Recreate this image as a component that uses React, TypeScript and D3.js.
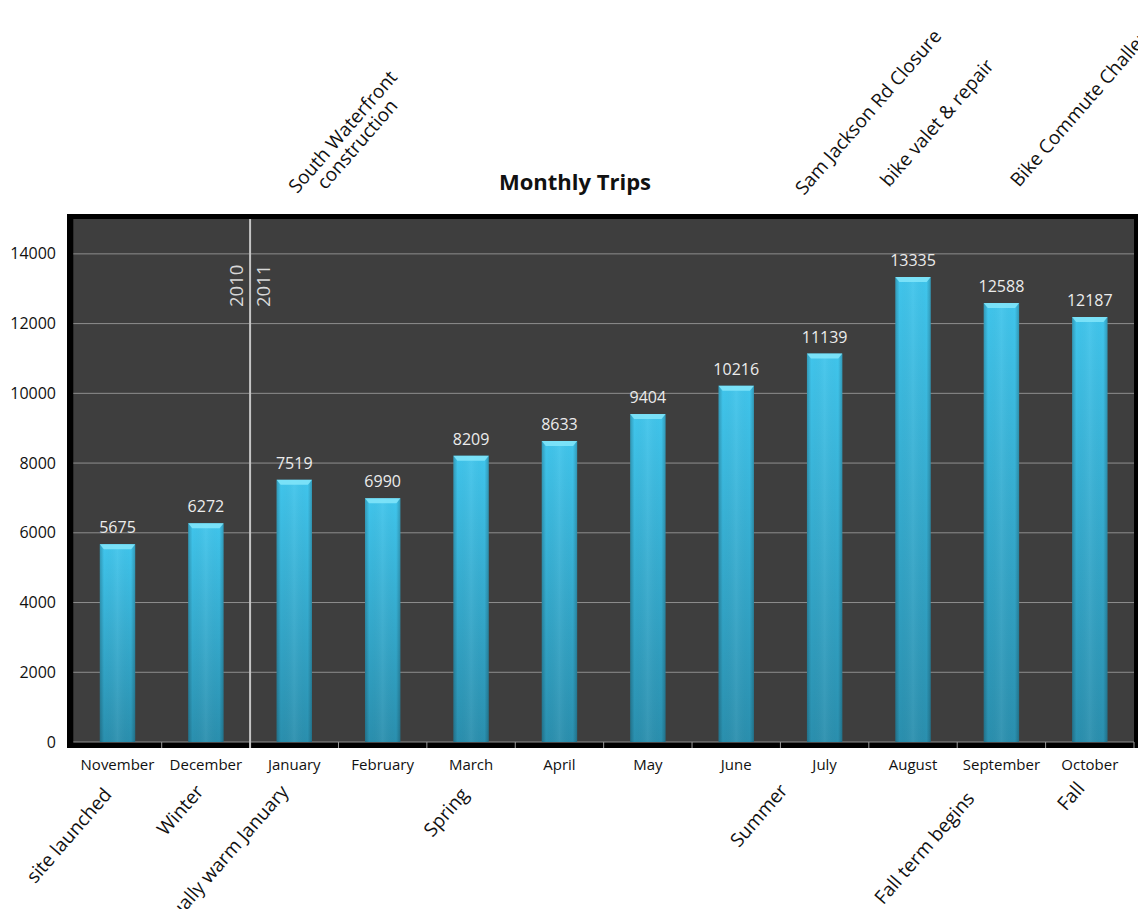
import React from "react";
import * as d3 from "d3";

const months = ["November", "December", "January", "February", "March", "April", "May", "June", "July", "August", "September", "October"];
const trips = [5675, 6272, 7519, 6990, 8209, 8633, 9404, 10216, 11139, 13335, 12588, 12187];
const yTicks = [0, 2000, 4000, 6000, 8000, 10000, 12000, 14000];

const topNotes = [
  { lines: ["Sam Jackson Rd Closure"], x: 804, y: 196 },
  { lines: ["bike valet & repair"], x: 889, y: 188 },
  { lines: ["Bike Commute Challenge"], x: 1019, y: 188 },
];
const bottomNotes = [
  { text: "site launched", x: 102, y: 786 },
  { text: "Winter", x: 194, y: 783 },
  { text: "Unusually warm January", x: 279, y: 783 },
  { text: "Spring", x: 459, y: 786 },
  { text: "Summer", x: 778, y: 782 },
  { text: "Fall term begins", x: 965, y: 790 },
  { text: "Fall", x: 1075, y: 780 },
];

const W = 1138, H = 909;
const L = 73.3, R = 1134, T = 219, B = 742;
const FONT = "'Open Sans', sans-serif";
const ANG = -49;

export default function App() {
  const x = d3.scaleBand<string>().domain(months).range([L, R]).padding(0);
  const y = d3.scaleLinear().domain([0, 15000]).range([B, T]);
  const bw = x.bandwidth() * 0.4;
  const divX = x("January")!;

  return (
    <svg width={W} height={H} style={{ position: "absolute", left: 0, top: 0, background: "#fff" }} fontFamily={FONT}>
      <defs>
        <linearGradient id="vg" x1="0" y1="0" x2="0" y2="1">
          <stop offset="0" stopColor="#40c5ec" />
          <stop offset="1" stopColor="#2a8fae" />
        </linearGradient>
        <linearGradient id="hg" x1="0" y1="0" x2="1" y2="0">
          <stop offset="0" stopColor="#000" stopOpacity="0.22" />
          <stop offset="0.12" stopColor="#000" stopOpacity="0.0" />
          <stop offset="0.5" stopColor="#fff" stopOpacity="0.06" />
          <stop offset="0.88" stopColor="#000" stopOpacity="0.0" />
          <stop offset="1" stopColor="#000" stopOpacity="0.22" />
        </linearGradient>
      </defs>
      {/* frame */}
      <rect x={67} y={214} width={W - 67} height={748 - 214} fill="#000" />
      <rect x={L} y={T} width={R - L} height={B - T} fill="#3e3e3e" />
      {/* gridlines */}
      {yTicks.map((t) => (
        <line key={t} x1={L} x2={R} y1={y(t)} y2={y(t)} stroke="#8e8e8e" strokeWidth={1} />
      ))}
      {/* tick marks on bottom band */}
      {months.map((m) => (
        <line key={m} x1={x(m)! + x.bandwidth()} x2={x(m)! + x.bandwidth()} y1={B} y2={748} stroke="#9a9a9a" strokeWidth={1} />
      ))}
      {/* bars */}
      {months.map((m, i) => {
        const bx = x(m)! + (x.bandwidth() - bw) / 2;
        const by = y(trips[i]);
        const bh = B - by;
        return (
          <g key={m}>
            <rect x={bx} y={by} width={bw} height={bh} fill="url(#vg)" />
            <rect x={bx} y={by} width={bw} height={bh} fill="url(#hg)" />
            <path d={`M${bx},${by} L${bx + bw},${by} L${bx + bw - 4},${by + 5} L${bx + 4},${by + 5} Z`} fill="#7fe4fa" opacity={0.9} />
            <text x={bx + bw / 2} y={by - 11} textAnchor="middle" fontSize={16} fill="#ececec">{trips[i]}</text>
          </g>
        );
      })}
      {/* year divider */}
      <line x1={divX} x2={divX} y1={T} y2={748} stroke="#c4c4c4" strokeWidth={2} />
      <text transform={`translate(${divX - 7},307) rotate(-90)`} fontSize={18.5} fill="#d8d8d8">2010</text>
      <text transform={`translate(${divX + 20},307) rotate(-90)`} fontSize={18.5} fill="#d8d8d8">2011</text>
      {/* y tick labels */}
      {yTicks.map((t) => (
        <text key={t} x={56} y={y(t) + 5.5} textAnchor="end" fontSize={16} fill="#111">{t}</text>
      ))}
      {/* x labels */}
      {months.map((m) => (
        <text key={m} x={x(m)! + x.bandwidth() / 2} y={770} textAnchor="middle" fontSize={15} fill="#111">{m}</text>
      ))}
      {/* title */}
      <text x={575} y={190} textAnchor="middle" fontSize={22} fontWeight="bold" fill="#111">Monthly Trips</text>
      {/* top annotations */}
      <g transform={`translate(350,138) rotate(${ANG})`} fontSize={19} fill="#111" textAnchor="middle">
        <text x={0} y={-3}>South Waterfront</text>
        <text x={0} y={16}>construction</text>
      </g>
      {topNotes.map((n) => (
        <text key={n.lines[0]} transform={`translate(${n.x},${n.y}) rotate(${ANG})`} fontSize={19} fill="#111">{n.lines[0]}</text>
      ))}
      {bottomNotes.map((n) => (
        <text key={n.text} transform={`translate(${n.x},${n.y}) rotate(${ANG})`} fontSize={19} fill="#111" textAnchor="end" dy={14}>{n.text}</text>
      ))}
    </svg>
  );
}
